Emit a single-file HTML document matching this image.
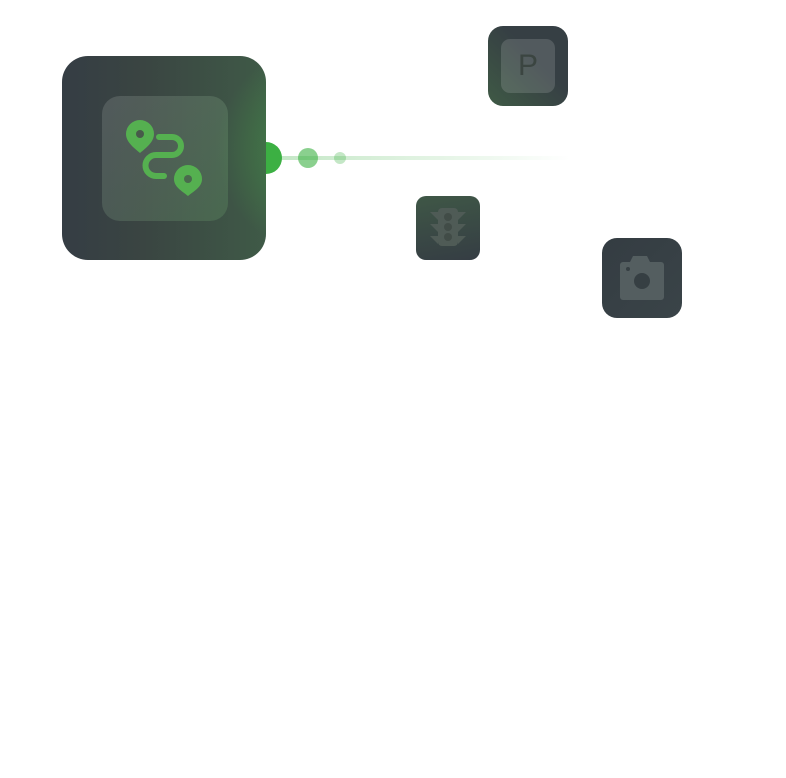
<!DOCTYPE html>
<html><head><style>
html,body{margin:0;padding:0;background:#fff;width:786px;height:778px;overflow:hidden;position:relative;font-family:"Liberation Sans",sans-serif}
.a{position:absolute}
</style></head><body>
<div class="a" style="left:280px;top:156px;width:290px;height:4px;background:linear-gradient(90deg,rgba(60,176,67,.3),rgba(60,176,67,.12) 60%,rgba(60,176,67,0))"></div>
<svg class="a" style="left:0;top:0" width="786" height="778">
 <circle cx="266" cy="158" r="16" fill="#3cb043"/>
 <circle cx="308" cy="158" r="10" fill="#3cb043" opacity=".6"/>
 <circle cx="340" cy="158" r="6" fill="#3cb043" opacity=".3"/>
</svg>
<div class="a" style="left:62px;top:56px;width:204px;height:204px;border-radius:26px;overflow:hidden;background:linear-gradient(90deg,#353d44 0%,#3a4542 40%,#3f5a47 100%)">
 <div class="a" style="left:60px;top:-10px;width:200px;height:224px;background:radial-gradient(circle at 100% 46%,rgba(70,170,70,.6),rgba(70,170,70,0) 45%);"></div>
</div>
<div class="a" style="left:102px;top:96px;width:126px;height:125px;border-radius:18px;background:linear-gradient(135deg,rgba(255,255,255,.13),rgba(120,190,120,.2))"></div>
<svg class="a" style="left:0;top:0" width="786" height="778">
 <g fill="#55b050">
  <path d="M140 120a14 14 0 0 1 14 14c0 8-8 14-14 19c-6-5-14-11-14-19a14 14 0 0 1 14-14z"/>
  <path d="M188 165a14 14 0 0 1 14 14c0 8-8 12-14 17c-6-5-14-9-14-17a14 14 0 0 1 14-14z"/>
 </g>
 <circle cx="140" cy="134" r="4" fill="#475a4a"/>
 <circle cx="188" cy="179" r="4" fill="#4a6a4d"/>
 <path d="M159 137h13a9 9 0 0 1 0 18h-16a10 10 0 0 0 0 21h8" fill="none" stroke="#55b050" stroke-width="6" stroke-linecap="round"/>
</svg>
<div class="a" style="left:488px;top:26px;width:80px;height:80px;border-radius:15px;background:linear-gradient(45deg,#3f5a45,#363f44 60%)"></div>
<div class="a" style="left:501px;top:39px;width:54px;height:54px;border-radius:9px;background:rgba(255,255,255,.14);color:#3b4541;font-size:30px;line-height:54px;text-align:center">P</div>
<div class="a" style="left:416px;top:196px;width:64px;height:64px;border-radius:10px;background:linear-gradient(170deg,#3f5746,#353d44)"></div>
<svg class="a" style="left:416px;top:196px" width="64" height="64">
 <g fill="#4f5b56"><rect x="22" y="12" width="20" height="38" rx="4"/><path d="M14 16h8v8zM50 16h-8v8zM14 28h8v8zM50 28h-8v8zM14 40h8v8zM50 40h-8v8z"/></g>
 <g fill="#414c47"><circle cx="32" cy="21" r="4"/><circle cx="32" cy="31" r="4"/><circle cx="32" cy="41" r="4"/></g>
</svg>
<div class="a" style="left:602px;top:238px;width:80px;height:80px;border-radius:15px;background:linear-gradient(135deg,#343c42,#3a4448)"></div>
<svg class="a" style="left:602px;top:238px" width="80" height="80">
 <path d="M31 18h14l3 6h11a3 3 0 0 1 3 3v32a3 3 0 0 1-3 3h-38a3 3 0 0 1-3-3v-32a3 3 0 0 1 3-3h7z" fill="#545e60"/>
 <circle cx="40" cy="43" r="8" fill="#363f43"/>
 <circle cx="26" cy="31" r="2" fill="#363f43"/>
</svg>
</body></html>
